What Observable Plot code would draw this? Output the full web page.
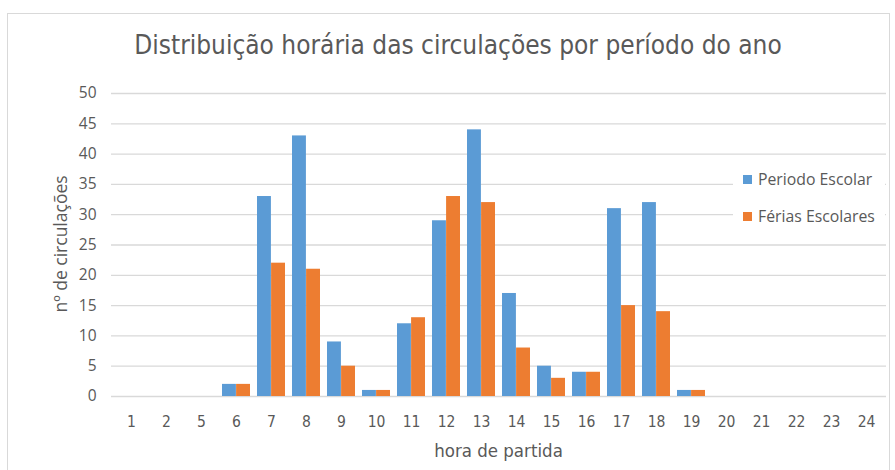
<!DOCTYPE html>
<html><head><meta charset="utf-8">
<script src="https://cdn.jsdelivr.net/npm/d3@7"></script>
<script src="https://cdn.jsdelivr.net/npm/@observablehq/plot@0.6"></script>
<style>
body{margin:0;background:#fff}
#wrap{position:relative;width:895px;height:470px;overflow:hidden;background:#fff}
#frame{position:absolute;left:7px;top:13px;width:883px;height:470px;border:1px solid #d9d9d9;box-sizing:border-box;pointer-events:none}
#chart{position:absolute;left:0;top:0}
.narrow{font-family:"Liberation Sans Narrow","DejaVu Sans Condensed",sans-serif;color:#595959}
#title{position:absolute;left:0;width:916px;top:30px;text-align:center;font-size:26px;white-space:nowrap}
#xtitle{position:absolute;left:0;width:997px;top:440px;text-align:center;font-size:18.5px}
#ytitle{position:absolute;left:60px;top:244px;transform:translate(-50%,-50%) rotate(-90deg);font-family:"Open Sans",sans-serif;font-size:17.5px;color:#595959;white-space:nowrap}
#legend{position:absolute;left:733px;top:163px;width:152px;height:72px;background:#fff;font-family:"Open Sans",sans-serif;font-size:15.8px;color:#595959}
.li{position:absolute;left:10px;display:flex;align-items:center;white-space:nowrap}
.sw{width:9px;height:9px;margin-right:6px;display:inline-block}
</style></head>
<body><div id="wrap">
<div id="chart"></div>
<div id="frame"></div>
<div id="title" class="narrow">Distribuição horária das circulações por período do ano</div>
<div id="xtitle" class="narrow">hora de partida</div>
<div id="ytitle">nº de circulações</div>
<div id="legend"></div>
</div>
<script>
const hours = ["1","2","5","6","7","8","9","10","11","12","13","14","15","16","17","18","19","20","21","22","23","24"];
const periodoEscolar = [0,0,0,2,33,43,9,1,12,29,44,17,5,4,31,32,1,0,0,0,0,0];
const feriasEscolares = [0,0,0,2,22,21,5,1,13,33,32,8,3,4,15,14,1,0,0,0,0,0];
const yTicks = [0,5,10,15,20,25,30,35,40,45,50];
const seriesNames = ["Periodo Escolar","Férias Escolares"];
const colors = ["#5B9BD5","#ED7D31"];

const W = 895, H = 470, mL = 111, mR = 9, mT = 93, mB = 74;
const step = (W - mL - mR) / hours.length;
const half = step * 0.8 / 2;

const rowsA = hours.map((h,i)=>({hour:h, value:periodoEscolar[i]})).filter(d=>d.value>0);
const rowsB = hours.map((h,i)=>({hour:h, value:feriasEscolares[i]})).filter(d=>d.value>0);

const plot = Plot.plot({
  width: W, height: H,
  marginLeft: mL, marginRight: mR, marginTop: mT, marginBottom: mB,
  style: {background: "transparent", overflow: "visible"},
  x: {type: "band", domain: hours, paddingInner: 0.2, paddingOuter: 0.1, label: null},
  y: {domain: [0, 50], label: null},
  marks: [
    Plot.ruleY(yTicks, {stroke: "#d9d9d9", strokeWidth: 1.3}),
    Plot.barY(rowsA, {x: "hour", y: "value", fill: colors[0], insetRight: half, insetLeft: 0}),
    Plot.barY(rowsB, {x: "hour", y: "value", fill: colors[1], insetLeft: half, insetRight: 0}),
    Plot.axisY(yTicks, {tickSize: 0, tickPadding: 15, fontSize: 15.5, fill: "#595959", fontFamily: "Open Sans, sans-serif", label: null}),
    Plot.axisX(hours, {tickSize: 0, tickPadding: 19, fontSize: 15.5, fill: "#595959", fontFamily: "Liberation Sans Narrow, DejaVu Sans Condensed, sans-serif", label: null})
  ]
});
document.getElementById("chart").appendChild(plot);

const lg = document.getElementById("legend");
seriesNames.forEach((n,i)=>{
  const d = document.createElement("div");
  d.className = "li";
  d.style.top = (i===0 ? 5 : 42) + "px";
  d.innerHTML = `<span class="sw" style="background:${colors[i]}"></span><span>${n}</span>`;
  lg.appendChild(d);
});
</script>
</body></html>
